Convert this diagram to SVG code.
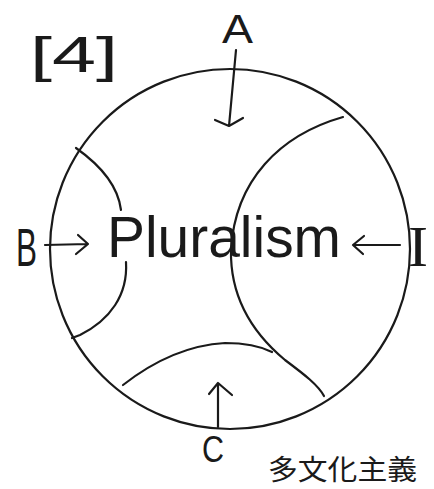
<svg xmlns="http://www.w3.org/2000/svg" width="434" height="489" viewBox="0 0 434 489">
<style>
.ln{fill:none;stroke:#1a1a1a;stroke-width:2.2;stroke-linecap:round;stroke-linejoin:round}
.t{font-family:"Liberation Sans","DejaVu Sans",sans-serif;fill:#1a1a1a}
.s{font-family:"Liberation Serif","DejaVu Serif",serif;fill:#1a1a1a}
.j{font-family:"Noto Sans CJK JP",sans-serif;fill:#1a1a1a}
</style>
<rect width="434" height="489" fill="#ffffff"/>
<g id="title"><text class="t" x="30" y="72" font-size="50" textLength="88" lengthAdjust="spacingAndGlyphs">[4]</text></g>
<g id="circle">
<circle class="ln" cx="230" cy="249" r="180"/>
<path class="ln" d="M76,148 C100,165 118,185 121,210"/>
<path class="ln" d="M126,262 C128,295 110,320 80,335 L72,338"/>
<path class="ln" d="M343,117 C280,135 235,180 231,250 C230,300 255,335 285,360 C305,375 318,385 324,396"/>
<path class="ln" d="M123,385 C155,360 190,345 225,343 C245,343 260,346 272,352"/>
</g>
<g id="center"><text class="t" x="107" y="257" font-size="57" textLength="234" lengthAdjust="spacingAndGlyphs">Pluralism</text></g>
<g id="A"><text class="t" x="222" y="43" font-size="40" textLength="31" lengthAdjust="spacingAndGlyphs">A</text></g>
<g id="B"><text class="t" x="16" y="266" font-size="54" textLength="21" lengthAdjust="spacingAndGlyphs">B</text></g>
<g id="I"><text class="s" x="408" y="266" font-size="56" textLength="20" lengthAdjust="spacingAndGlyphs">I</text></g>
<g id="C"><text class="t" x="202" y="462" font-size="36" textLength="22" lengthAdjust="spacingAndGlyphs">C</text></g>
<g id="note"><text class="j" x="268" y="480" font-size="28" textLength="149" lengthAdjust="spacingAndGlyphs">多文化主義</text></g>
<g id="connectors">
<path class="ln" d="M236,50 L229,126 M215,120 L229,126 L243,118"/>
<path class="ln" d="M45,245 L88,244 M78,235 L88,244 L76,254"/>
<path class="ln" d="M400,245 L353,245 M364,236 L353,245 L363,254"/>
<path class="ln" d="M218,427 L218,383 M209,394 L218,383 L232,395"/>
</g>
</svg>
